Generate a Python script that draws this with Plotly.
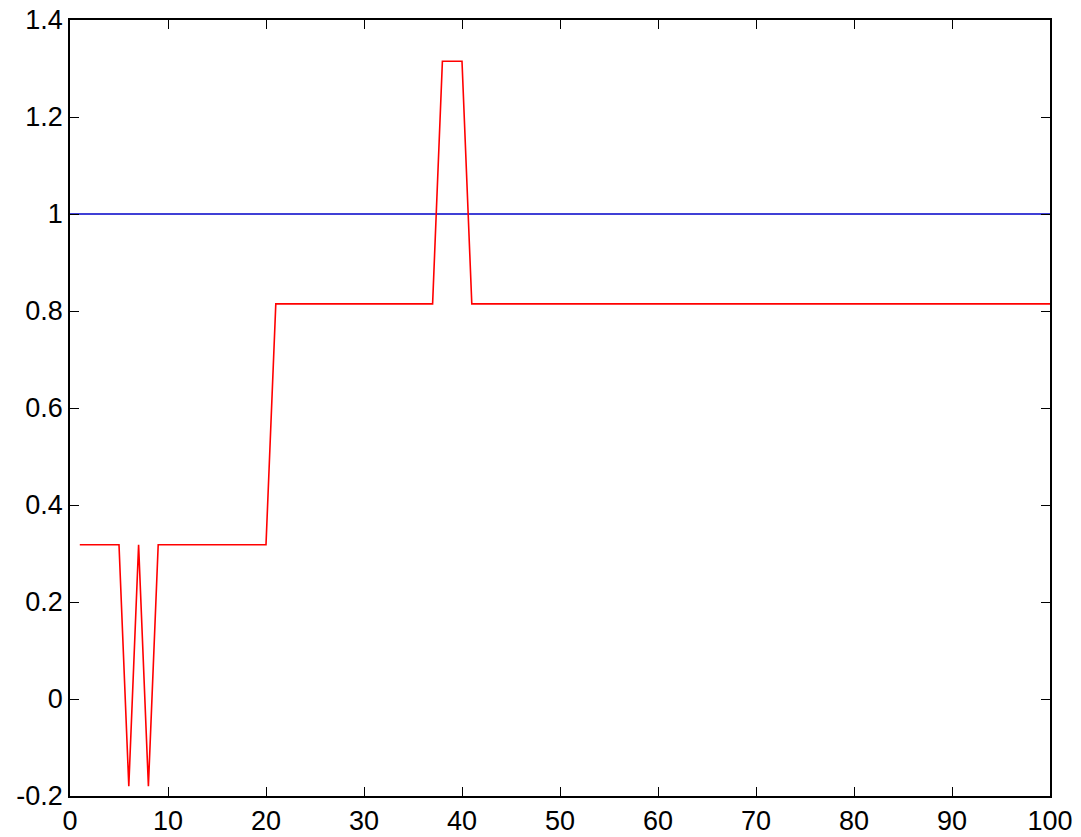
import plotly.graph_objects as go

# Red series values at x = 1..100
red_x = list(range(1, 101))
red_y = ([0.318] * 5 + [-0.18, 0.318, -0.18] + [0.318] * 12 +
         [0.8147] * 17 + [1.315] * 3 + [0.8147] * 60)

blue_x = [0, 100]
blue_y = [1, 1]

x_ticks = [0, 10, 20, 30, 40, 50, 60, 70, 80, 90, 100]
y_ticks = [-0.2, 0, 0.2, 0.4, 0.6, 0.8, 1, 1.2, 1.4]
y_ticktext = ["-0.2", "0", "0.2", "0.4", "0.6", "0.8", "1", "1.2", "1.4"]

fig = go.Figure()
fig.add_trace(go.Scatter(x=blue_x, y=blue_y, mode="lines",
                         line=dict(color="#0000C8", width=1.6), showlegend=False))
fig.add_trace(go.Scatter(x=red_x, y=red_y, mode="lines",
                         line=dict(color="#FF0000", width=1.6), showlegend=False))

axis_common = dict(showgrid=False, zeroline=False, showline=True, linecolor="black",
                   linewidth=1.5, mirror="ticks", ticks="inside", ticklen=9,
                   tickcolor="black", tickwidth=1.2, automargin=False,
                   ticklabeloverflow="allow",
                   tickfont=dict(family="Liberation Sans, Arial, sans-serif", size=27, color="black"))

fig.update_xaxes(range=[0, 100], tickvals=x_ticks, **axis_common)
fig.update_yaxes(range=[-0.2, 1.4], tickvals=y_ticks, ticktext=y_ticktext, **axis_common)

fig.update_layout(width=1081, height=837, margin=dict(l=70, r=31, t=20, b=41),
                  plot_bgcolor="white", paper_bgcolor="white")

fig.write_html("out.html", config={"displayModeBar": False},
               post_script="document.body.style.margin='0';document.body.style.overflow='hidden';")
